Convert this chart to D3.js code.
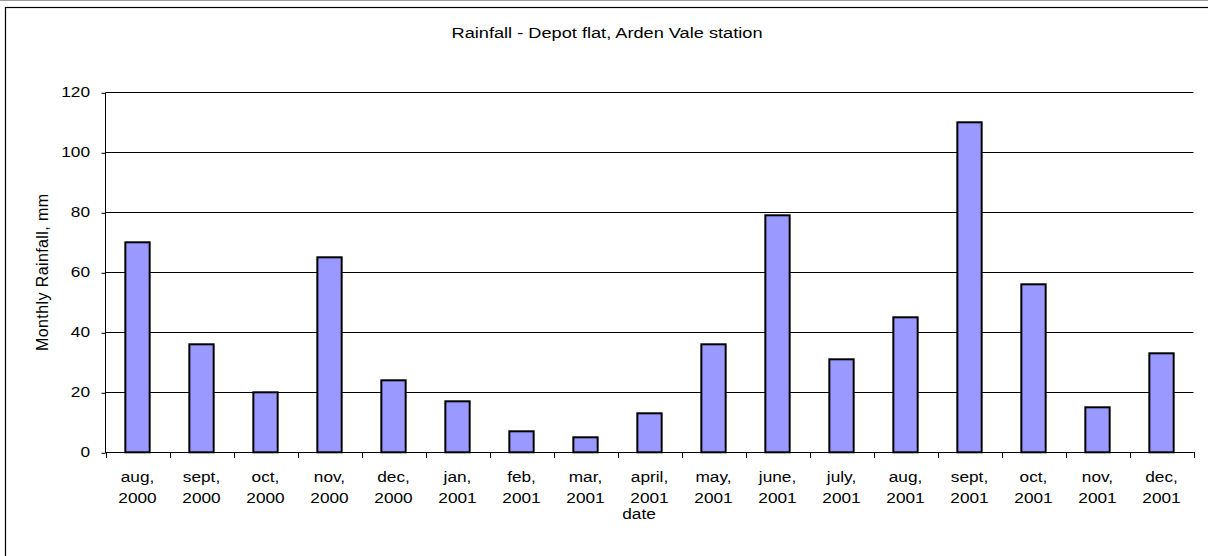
<!DOCTYPE html>
<html>
<head>
<meta charset="utf-8">
<script src="https://cdn.jsdelivr.net/npm/d3@7/dist/d3.min.js"></script>
<style>
  html, body { margin: 0; padding: 0; background: #fff; }
  svg { display: block; }
  text { font-family: "Liberation Sans", Arial, sans-serif; fill: #000; }
</style>
</head>
<body>
<svg id="chart" width="1208" height="556"></svg>
<script>
// Monthly rainfall at Depot flat, Arden Vale station
const months = ["aug,", "sept,", "oct,", "nov,", "dec,", "jan,", "feb,", "mar,", "april,",
                "may,", "june,", "july,", "aug,", "sept,", "oct,", "nov,", "dec,"];
const years = ["2000", "2000", "2000", "2000", "2000", "2001", "2001", "2001", "2001",
               "2001", "2001", "2001", "2001", "2001", "2001", "2001", "2001"];
const rainfall = [70, 36, 20, 65, 24, 17, 7, 5, 13, 36, 79, 31, 45, 110, 56, 15, 33];
const yTicks = [0, 20, 40, 60, 80, 100, 120];

const categories = months.map((m, i) => i);

const svg = d3.select("#chart");
const W = 1208, H = 556;
const WIDEN = 1.15;   // horizontal widening applied to text glyphs

// place a text item at (px, py), widened horizontally around its anchor
function label(parent, px, py, str, size, anchor, widen) {
  return parent.append("text")
    .attr("transform", `translate(${px},${py}) scale(${widen || WIDEN},1)`)
    .attr("text-anchor", anchor || "middle")
    .attr("font-size", size)
    .text(str);
}

// outer chart frame (extends past the right/bottom edges)
svg.append("line").attr("x1", 0).attr("x2", W).attr("y1", 0.5).attr("y2", 0.5)
  .attr("stroke", "#9a9a9a").attr("stroke-width", 1);
svg.append("rect")
  .attr("x", 5.5).attr("y", 7.5).attr("width", W + 20).attr("height", H + 20)
  .attr("fill", "none").attr("stroke", "#000").attr("stroke-width", 1.2);

const plot = { left: 105.5, right: 1193.5, top: 92.3, bottom: 452.3 };

const x = d3.scaleBand()
  .domain(categories)
  .range([plot.left, plot.right])
  .paddingInner(0.62)
  .paddingOuter(0.31);

const y = d3.scaleLinear()
  .domain([0, 120])
  .range([plot.bottom, plot.top]);

// horizontal gridlines
svg.append("g")
  .selectAll("line")
  .data(yTicks)
  .join("line")
  .attr("x1", plot.left)
  .attr("x2", plot.right)
  .attr("y1", d => Math.round(y(d)) + 0.5)
  .attr("y2", d => Math.round(y(d)) + 0.5)
  .attr("stroke", "#000")
  .attr("stroke-width", 1);

// y axis (line + ticks from the axis generator, labels drawn widened)
const yAxis = d3.axisLeft(y).tickValues(yTicks).tickSize(4).tickFormat("");
const gy = svg.append("g")
  .attr("transform", `translate(${plot.left},0.5)`)
  .call(yAxis);
gy.select(".domain").attr("stroke", "#000").attr("d", `M0,${plot.top}V${plot.bottom}`);
gy.selectAll(".tick line").attr("stroke", "#000");
const gyl = svg.append("g");
yTicks.forEach(v => label(gyl, 90, Math.round(y(v)) + 5.3, String(v), 15, "end"));

// bars
svg.append("g")
  .selectAll("rect")
  .data(rainfall)
  .join("rect")
  .attr("x", (d, i) => x(i))
  .attr("y", d => y(d))
  .attr("width", x.bandwidth())
  .attr("height", d => y(0) - y(d))
  .attr("fill", "#9999ff")
  .attr("stroke", "#000")
  .attr("stroke-width", 2);

// x axis with ticks at category boundaries
const boundaries = d3.range(categories.length + 1).map(i => plot.left + i * x.step());
const gx = svg.append("g");
gx.append("line")
  .attr("x1", plot.left).attr("x2", plot.right)
  .attr("y1", Math.round(plot.bottom) + 0.5).attr("y2", Math.round(plot.bottom) + 0.5)
  .attr("stroke", "#000");
gx.selectAll("line.tick")
  .data(boundaries)
  .join("line")
  .attr("class", "tick")
  .attr("x1", d => Math.round(d) + 0.5).attr("x2", d => Math.round(d) + 0.5)
  .attr("y1", Math.round(plot.bottom)).attr("y2", Math.round(plot.bottom) + 6)
  .attr("stroke", "#000");

// category labels on two lines
categories.forEach(i => {
  const cx = x(i) + x.bandwidth() / 2;
  label(gx, cx, 482, months[i], 15);
  label(gx, cx, 502.5, years[i], 15);
});

// axis titles
label(svg, 639, 518.5, "date", 15);

svg.append("text")
  .attr("transform", `translate(47.5,${(plot.top + plot.bottom) / 2}) rotate(-90)`)
  .attr("text-anchor", "middle")
  .attr("font-size", 16)
  .style("letter-spacing", "0.4px")
  .text("Monthly Rainfall, mm");

// chart title
label(svg, 607, 38.3, "Rainfall - Depot flat, Arden Vale station", 15.3, "middle", 1.19);
</script>
</body>
</html>
